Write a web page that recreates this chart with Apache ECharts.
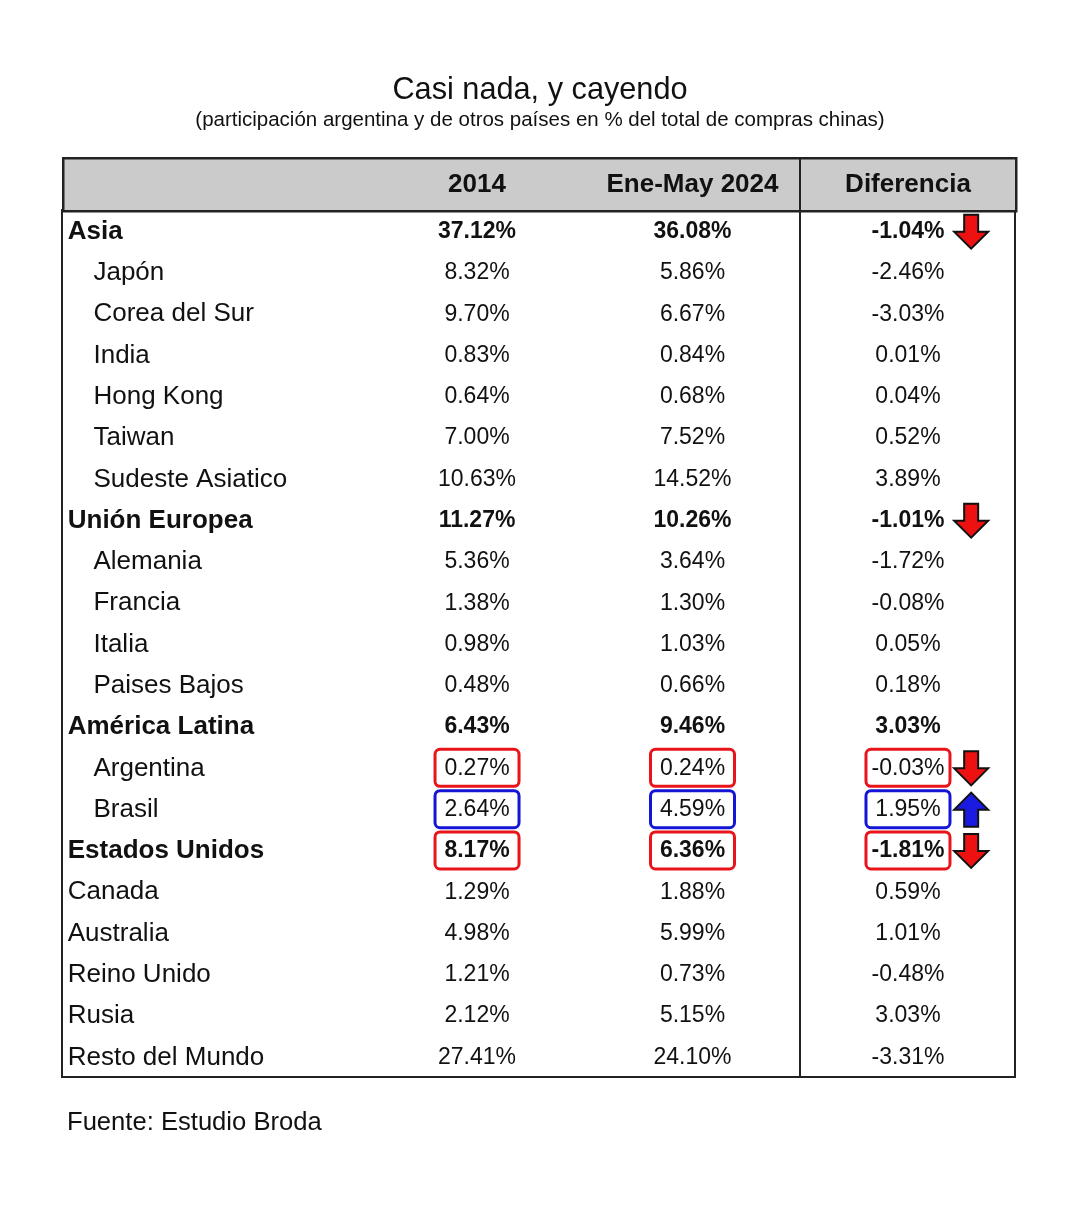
<!DOCTYPE html>
<html>
<head>
<meta charset="utf-8">
<title>Casi nada, y cayendo</title>
<script src="https://cdn.jsdelivr.net/npm/echarts@6/dist/echarts.min.js"></script>
<style>
  html, body { margin: 0; padding: 0; background: #fff; }
  #chart { width: 1080px; height: 1208px; }
</style>
</head>
<body>
<div id="chart"></div>
<script>
// filas de la tabla
const rowNames = ['Asia', 'Japón', 'Corea del Sur', 'India', 'Hong Kong', 'Taiwan', 'Sudeste Asiatico',
  'Unión Europea', 'Alemania', 'Francia', 'Italia', 'Paises Bajos',
  'América Latina', 'Argentina', 'Brasil', 'Estados Unidos',
  'Canada', 'Australia', 'Reino Unido', 'Rusia', 'Resto del Mundo']
const groupRows = ['Asia', 'Unión Europea', 'América Latina', 'Estados Unidos']
const subRows = ['Japón', 'Corea del Sur', 'India', 'Hong Kong', 'Taiwan', 'Sudeste Asiatico',
  'Alemania', 'Francia', 'Italia', 'Paises Bajos', 'Argentina', 'Brasil']
const columnNames = ['2014', 'Ene-May 2024', 'Diferencia']
const values2014 = [37.12, 8.32, 9.70, 0.83, 0.64, 7.00, 10.63, 11.27, 5.36, 1.38, 0.98, 0.48,
  6.43, 0.27, 2.64, 8.17, 1.29, 4.98, 1.21, 2.12, 27.41]
const values2024 = [36.08, 5.86, 6.67, 0.84, 0.68, 7.52, 14.52, 10.26, 3.64, 1.30, 1.03, 0.66,
  9.46, 0.24, 4.59, 6.36, 1.88, 5.99, 0.73, 5.15, 24.10]
const diffValues = [-1.04, -2.46, -3.03, 0.01, 0.04, 0.52, 3.89, -1.01, -1.72, -0.08, 0.05, 0.18,
  3.03, -0.03, 1.95, -1.81, 0.59, 1.01, -0.48, 3.03, -3.31]
// filas resaltadas y flechas
const redRows = ['Argentina', 'Estados Unidos']
const blueRows = ['Brasil']
const downRows = ['Asia', 'Unión Europea', 'Argentina', 'Estados Unidos']
const upRows = ['Brasil']

// posiciones de columnas (fracción del ancho de la tabla)
const COL = { label: 0.006, sub: 0.033, c1: 0.4355, c2: 0.6616, c3: 0.8877, arrow: 0.954, divider: 0.7744 }
const FONT = 'Arial, "Liberation Sans", Helvetica, sans-serif'
const INK = '#111'

const chart = echarts.init(document.getElementById('chart'))

function fmt(v){
    return v.toFixed(2) + '%'
}

function arrowPoints(cx, cy, up){
    const s = up ? -1 : 1
    return [[-7, -17], [7, -17], [7, 0], [17, 0], [0, 17], [-17, 0], [-7, 0]]
        .map(p => [cx + p[0], cy + s * p[1]])
}

function renderRow(params, api){
    const i = api.value(0)
    const name = rowNames[i]
    const bold = groupRows.includes(name)
    const font = (bold ? 'bold ' : '') + '23px ' + FONT
    const children = []
    const lp = api.coord([subRows.includes(name) ? COL.sub : COL.label, i])
    children.push({
        type: 'text',
        style: { text: name, x: lp[0], y: lp[1] + 1, align: 'left', verticalAlign: 'middle',
            font: (bold ? 'bold ' : '') + '26px ' + FONT, fill: INK }
    })
    const vals = [values2014[i], values2024[i], diffValues[i]]
    const cols = [COL.c1, COL.c2, COL.c3]
    const boxColor = redRows.includes(name) ? '#e8141a' : (blueRows.includes(name) ? '#1515d6' : null)
    vals.forEach((v, k) => {
        const p = api.coord([cols[k], i])
        if (boxColor) {
            children.push({
                type: 'rect',
                shape: { x: p[0] - 42, y: p[1] - 18, width: 84, height: 37, r: 5 },
                style: { fill: 'none', stroke: boxColor, lineWidth: 3 }
            })
        }
        children.push({
            type: 'text',
            style: { text: fmt(v), x: p[0], y: p[1] + 1, align: 'center', verticalAlign: 'middle', font: font, fill: INK }
        })
    })
    const up = upRows.includes(name)
    if (up || downRows.includes(name)) {
        const a = api.coord([COL.arrow, i])
        children.push({
            type: 'polygon',
            shape: { points: arrowPoints(a[0], a[1] + 1, up) },
            style: { fill: up ? '#1a1ae0' : '#ee1111', stroke: '#111', lineWidth: 2 }
        })
    }
    return { type: 'group', children: children }
}

const headerTexts = columnNames.map((c, k) => ({
    type: 'text',
    x: 62 + [COL.c1, COL.c2, COL.c3][k] * 953,
    y: 185,
    z: 20,
    style: { text: c, font: 'bold 26px ' + FONT, fill: INK, align: 'center', verticalAlign: 'middle' }
}))

const option = {
    backgroundColor: '#fff',
    animation: false,
    title: [
        {
            text: 'Casi nada, y cayendo',
            subtext: '(participación argentina y de otros países en % del total de compras chinas)',
            left: 'center',
            top: 70,
            itemGap: 4,
            textStyle: { fontFamily: FONT, fontSize: 30.7, fontWeight: 'normal', color: INK },
            subtextStyle: { fontFamily: FONT, fontSize: 20.5, color: INK }
        },
        {
            text: 'Fuente: Estudio Broda',
            left: 62,
            top: 1105,
            textStyle: { fontFamily: FONT, fontSize: 25.6, fontWeight: 'normal', color: INK }
        }
    ],
    grid: { left: 62, top: 210, width: 953, height: 867, show: true, borderColor: '#222', borderWidth: 2, backgroundColor: 'transparent' },
    xAxis: { type: 'value', min: 0, max: 1, show: false },
    yAxis: { type: 'category', data: rowNames, inverse: true, show: false },
    graphic: [
        {
            type: 'rect', left: 62, top: 157, z: 0,
            shape: { width: 953, height: 53 },
            style: { fill: '#cbcbcb', stroke: '#222', lineWidth: 2.5 }
        },
        {
            type: 'line', z: 10,
            shape: { x1: 62 + COL.divider * 953, y1: 157, x2: 62 + COL.divider * 953, y2: 1077 },
            style: { stroke: '#222', lineWidth: 2 }
        }
    ].concat(headerTexts),
    series: [
        {
            type: 'custom',
            renderItem: renderRow,
            data: rowNames.map((n, i) => [i]),
            encode: { y: 0 },
            clip: false,
            silent: true
        }
    ]
}

chart.setOption(option)
</script>
</body>
</html>
